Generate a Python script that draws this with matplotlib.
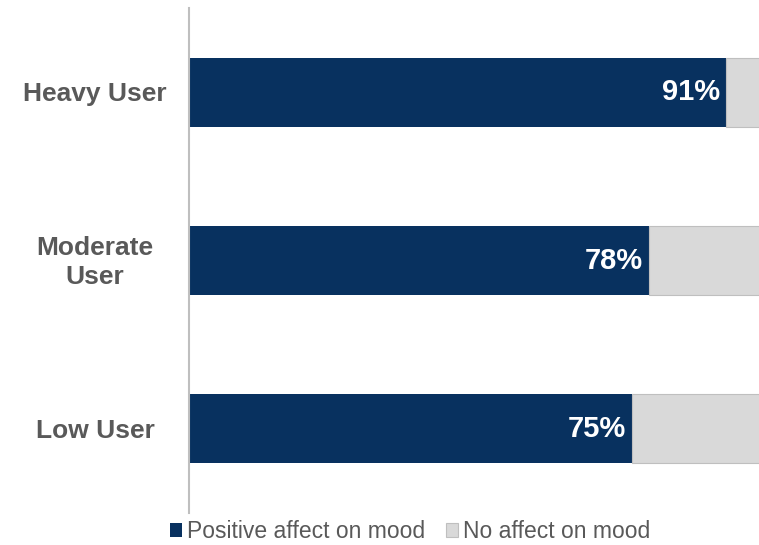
import matplotlib.pyplot as plt
from matplotlib.transforms import blended_transform_factory

plt.rcParams['font.family'] = ['Liberation Sans', 'DejaVu Sans']

# data
categories = ["Heavy User", "Moderate\nUser", "Low User"]
positive = [91, 78, 75]
no_affect = [100 - p for p in positive]
series_names = ["Positive affect on mood", "No affect on mood"]

navy = "#08315f"
light = "#d9d9d9"
text_gray = "#595959"

fig = plt.figure(figsize=(7.59, 5.45), dpi=100)
ax = fig.add_axes([0.249, 0.0587, 0.751, 0.926])

ypos = range(len(categories))
ax.barh(ypos, positive, height=0.41, color=navy, label=series_names[0])
ax.barh(ypos, no_affect, left=positive, height=0.41, color=light,
        edgecolor="#bfbfbf", linewidth=0.8, label=series_names[1])

for y, p in zip(ypos, positive):
    ax.text(p - 1.0, y, f"{p}%", color="white", fontsize=21, fontweight="bold",
            ha="right", va="center")

# category labels centred left of the axis
tr = blended_transform_factory(fig.transFigure, ax.transData)
for y, c in zip(ypos, categories):
    ax.text(95 / 759, y + 0.01, c, transform=tr, ha="center", va="center",
            fontsize=19, fontweight="bold", color=text_gray, linespacing=1.3)

ax.set_xlim(0, 96.6)
ax.set_ylim(2.5, -0.5)
ax.set_xticks([])
ax.set_yticks([])
for s in ["top", "right", "bottom"]:
    ax.spines[s].set_visible(False)
ax.spines["left"].set_color("#bfbfbf")
ax.spines["left"].set_linewidth(1.5)

leg = fig.legend(loc="center", bbox_to_anchor=(0.54, 0.024), ncol=2, frameon=False,
                 fontsize=16.5, handlelength=0.55, handleheight=0.55,
                 handletextpad=0.2, columnspacing=0.9, borderpad=0)
for t in leg.get_texts():
    t.set_color(text_gray)

fig.savefig("out.png", dpi=100)
